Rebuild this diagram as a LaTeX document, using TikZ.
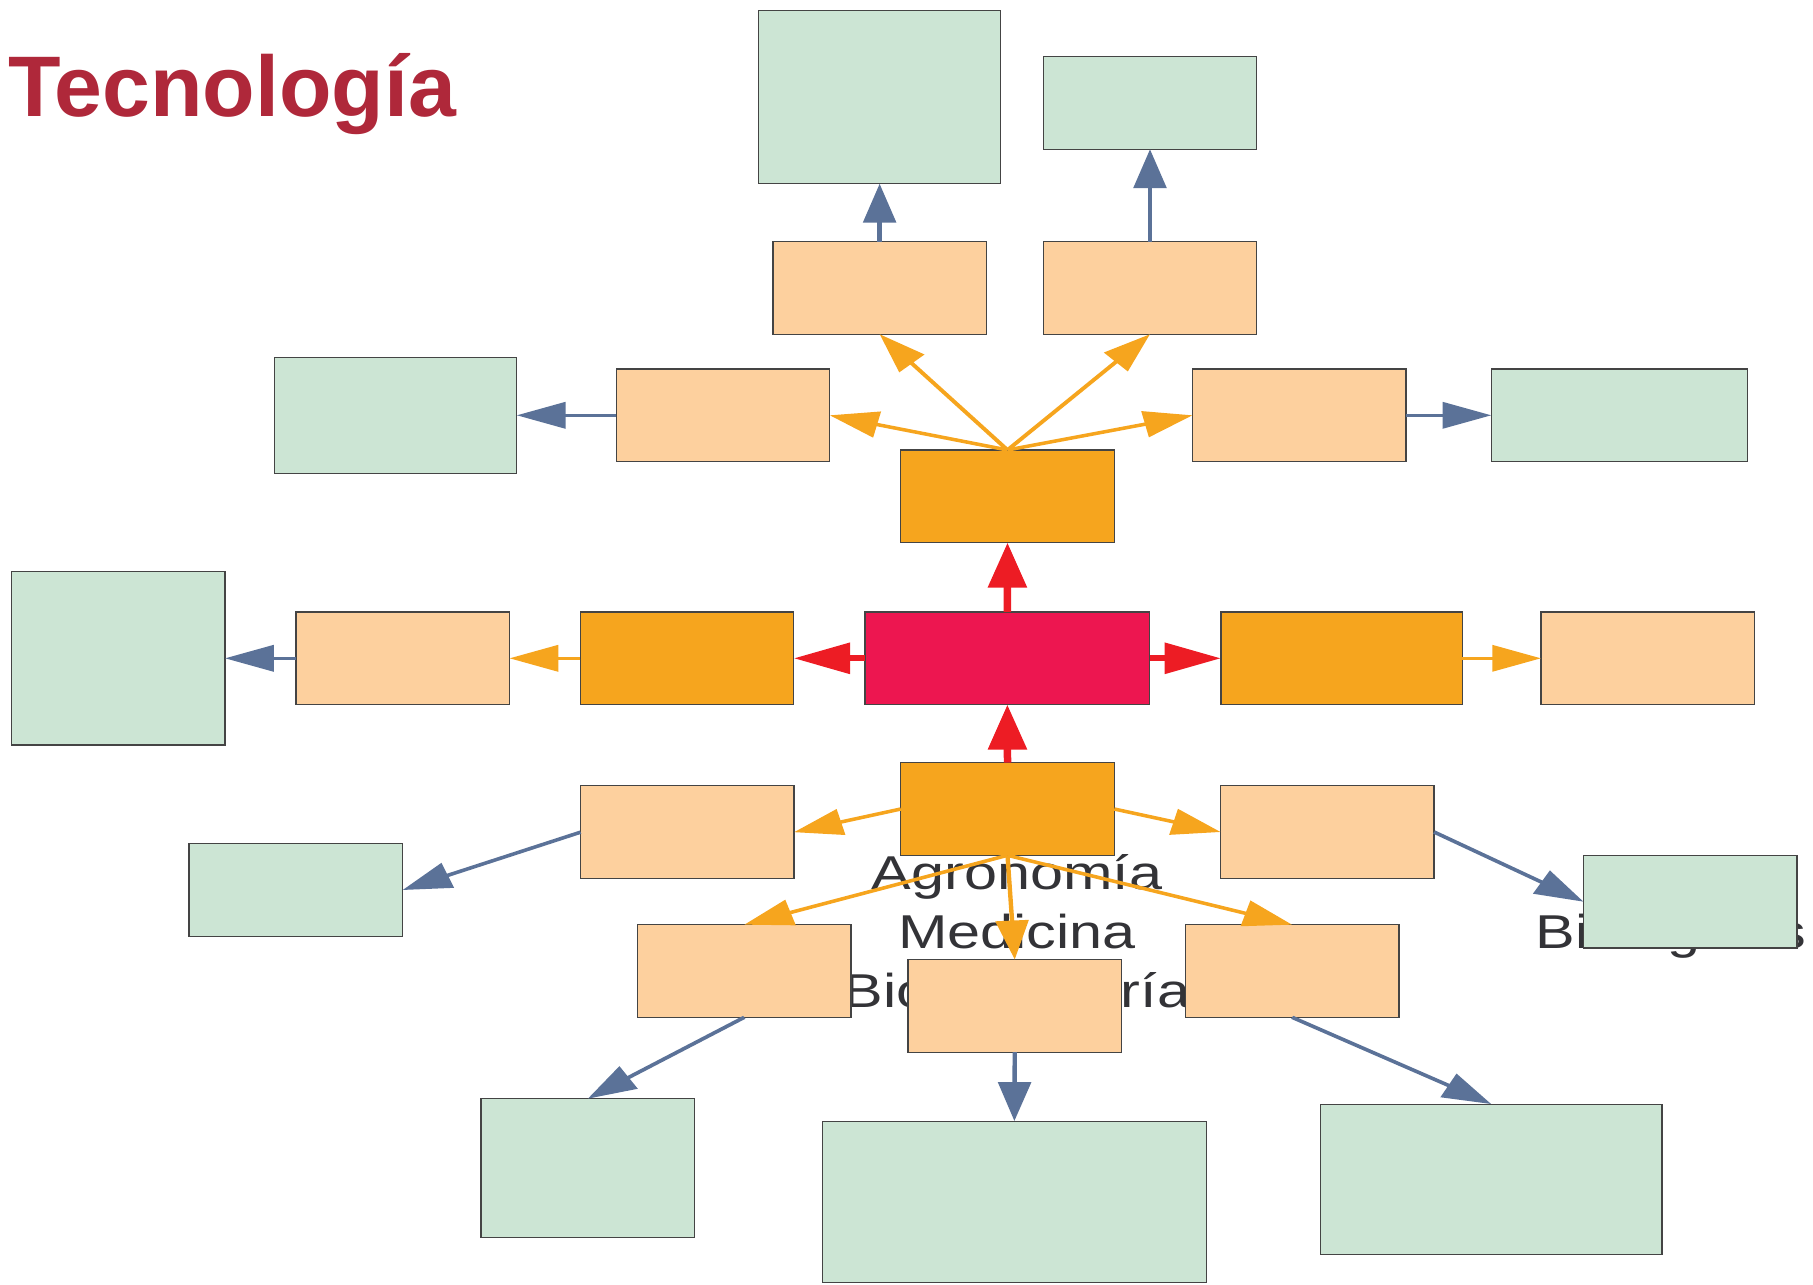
\documentclass[tikz,border=0pt]{standalone}
\usepackage{fontspec}
\setmainfont{Liberation Sans}
\usetikzlibrary{arrows.meta}

\definecolor{greenfill}{HTML}{CCE5D4}
\definecolor{peachfill}{HTML}{FDD09E}
\definecolor{orangefill}{HTML}{F6A51E}
\definecolor{hubfill}{HTML}{ED1650}
\definecolor{redline}{HTML}{ED1C24}
\definecolor{orangeline}{HTML}{F6A51E}
\definecolor{blueline}{HTML}{5B7298}
\definecolor{edgegray}{HTML}{444444}
\definecolor{labelgray}{HTML}{333337}
\definecolor{titlered}{HTML}{AF283A}

\tikzset{
  box/.style={rectangle, draw=edgegray, line width=1.1pt, inner sep=0pt, outer sep=0pt,
              minimum width=170.8pt, minimum height=92.6pt},
  leaf/.style={box, fill=greenfill},
  sub/.style={box, fill=peachfill},
  branch/.style={box, fill=orangefill},
  hub/.style={box, fill=hubfill},
  redarrow/.style={draw=redline, line width=6pt, -{Triangle[length=45pt,width=30pt]}},
  orangearrow/.style={draw=orangeline, line width=3.5pt, -{Triangle[length=39pt,width=26pt]}},
  bluearrow/.style={draw=blueline, line width=3.5pt, -{Triangle[length=39pt,width=26pt]}},
  field/.style={anchor=base, inner sep=0pt, text=labelgray, font=\fontsize{47.5}{59}\selectfont},
}

\begin{document}
\begin{tikzpicture}[x=1pt, y=-1pt]
\useasboundingbox (0,0) rectangle (1813,1285);

% heading
\node[anchor=base west, inner sep=0pt, text=titlered,
      font=\fontsize{86}{100}\selectfont\bfseries] (title) at (8,116) {Tecnología};

% the map itself is laid out narrow and widened as a whole
\begin{scope}[transform canvas={xscale=1.25}]
  % field names lying under the boxes
  \node[field] (agro) at (813.6,889) {Agronomía};
  \node[field] (medi) at (813.6,948) {Medicina};
  \node[field] (bioing) at (813.6,1007) {Bioingeniería};
  \node[field] (biolog) at (1336.8,948) {Biológicas};

  % boxes
  \node[leaf, minimum width=193.8pt, minimum height=173.4pt] (topleaf) at (703.7,97) {};
  \node[leaf] (topright) at (920,102.9) {};
  \node[sub] (upl) at (703.7,287.9) {};
  \node[sub] (upr) at (920,287.9) {};
  \node[leaf, minimum width=193.8pt, minimum height=116pt] (westleaf) at (316.5,415.3) {};
  \node[sub] (midl) at (578.4,415.3) {};
  \node[sub] (midr) at (1039.4,415.3) {};
  \node[leaf, minimum width=205pt] (eastleaf) at (1295.6,415.3) {};
  \node[branch] (north) at (806,496.3) {};
  \node[hub, minimum width=227.8pt] (core) at (805.9,658.3) {};
  \node[branch] (west) at (549.6,658.3) {};
  \node[sub] (westsub) at (322.2,658.3) {};
  \node[leaf, minimum height=173.3pt] (farwest) at (94.6,658.3) {};
  \node[branch, minimum width=193.1pt] (east) at (1073.3,658.3) {};
  \node[sub] (eastsub) at (1318.2,658.3) {};
  \node[branch] (south) at (806,809) {};
  \node[sub] (lowl) at (549.8,832.2) {};
  \node[leaf] (lowlleaf) at (236.7,890) {};
  \node[sub] (lowr) at (1061.9,832) {};
  \node[leaf] (lowrleaf) at (1352.2,901.7) {};
  \node[sub] (botl) at (595.4,971) {};
  \node[sub] (botc) at (811.8,1005.8) {};
  \node[sub] (botr) at (1033.7,971) {};
  \node[leaf, minimum height=138.6pt] (botlleaf) at (470.2,1168) {};
  \node[leaf, minimum width=307pt, minimum height=161.3pt] (botcleaf) at (811.5,1201.7) {};
  \node[leaf, minimum width=273.3pt, minimum height=150.7pt] (botrleaf) at (1193,1179.4) {};

  % red links around the hub
  \draw[redarrow] (core.north) -- (north.south);
  \draw[redarrow] (south.north) -- (core.south);
  \draw[redarrow] (core.west) -- (west.east);
  \draw[redarrow] (core.east) -- (east.west);

  % orange links
  \draw[orangearrow] (north.north) -- (midl.east);
  \draw[orangearrow] (north.north) -- (upl.south);
  \draw[orangearrow] (north.north) -- (upr.south);
  \draw[orangearrow] (north.north) -- (midr.west);
  \draw[orangearrow] (west.west) -- (westsub.east);
  \draw[orangearrow] (east.east) -- (eastsub.west);
  \draw[orangearrow] (south.west) -- (lowl.east);
  \draw[orangearrow] (south.east) -- (lowr.west);
  \draw[orangearrow] (south.south) -- (botl.north);
  \draw[orangearrow] (south.south) -- (botc.north);
  \draw[orangearrow] (south.south) -- (botr.north);

  % blue links to the outer boxes
  \draw[bluearrow] (upl.north) -- (topleaf.south);
  \draw[bluearrow] (upr.north) -- (topright.south);
  \draw[bluearrow] (midl.west) -- (westleaf.east);
  \draw[bluearrow] (midr.east) -- (eastleaf.west);
  \draw[bluearrow] (westsub.west) -- (farwest.east);
  \draw[bluearrow] (lowl.west) -- (lowlleaf.east);
  \draw[bluearrow] (lowr.east) -- (lowrleaf.west);
  \draw[bluearrow] (botl.south) -- (botlleaf.north);
  \draw[bluearrow] (botc.south) -- (botcleaf.north);
  \draw[bluearrow] (botr.south) -- (botrleaf.north);
\end{scope}
\end{tikzpicture}
\end{document}
